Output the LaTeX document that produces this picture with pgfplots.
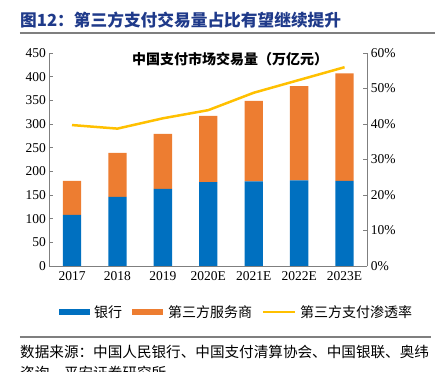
\documentclass[border=0pt]{standalone}
\usepackage{pgfplots}
\pgfplotsset{compat=1.18}
\usepackage{fontspec}
\setmainfont{Liberation Serif}
\newfontfamily\cjk{Noto Sans CJK SC}
\definecolor{cblue}{HTML}{0070C0}
\definecolor{corange}{HTML}{ED7D31}
\definecolor{cyellow}{HTML}{FFC000}
\definecolor{cnavy}{HTML}{1F3A8A}
\definecolor{caxis}{HTML}{7F7F7F}
\pgfplotstableread{
x bank third rate
0 108 72 39.7
1 146 93 38.7
2 163 116 41.6
3 177 140 43.9
4 179 170 48.8
5 181 199 52.4
6 180 227 56.0
}\datatable
\begin{document}
\begin{tikzpicture}[x=1pt,y=1pt]
\path[use as bounding box] (-72,-105) rectangle (363,266);
\begin{axis}[
  at={(0,0)}, anchor=origin, scale only axis,
  width=318pt, height=213pt,
  ybar stacked, bar width=18.3pt,
  xmin=-0.5, xmax=6.5, ymin=0, ymax=450,
  ytick={0,50,...,450},
  xtick={0,...,6},
  xticklabels={2017,2018,2019,2020E,2021E,2022E,2023E},
  extra x ticks={0.5,1.5,2.5,3.5,4.5,5.5},
  extra x tick labels={},
  extra x tick style={major tick length=4pt, tick style={caxis}},
  axis y line*=left, axis x line*=bottom,
  axis line style={caxis, line width=0.8pt},
  x axis line style={-}, y axis line style={-},
  major tick length=4pt,
  xtick style={draw=none},
  ytick style={caxis, line width=0.8pt},
  tick align=inside,
  ticklabel style={font=\fontsize{13.5}{16}\selectfont},
  /pgf/number format/assume math mode=true,
  xticklabel style={yshift=-2pt},
  clip=false,
]
\addplot[fill=cblue, draw=none] table[x=x, y=bank] {\datatable};
\addplot[fill=corange, draw=none] table[x=x, y=third] {\datatable};
\end{axis}
\begin{axis}[
  at={(0,0)}, anchor=origin, scale only axis,
  width=318pt, height=213pt,
  xmin=-0.5, xmax=6.5, ymin=0, ymax=60,
  ytick={0,10,...,60},
  yticklabel={\pgfmathprintnumber{\tick}\%},
  axis y line*=right, axis x line=none,
  axis line style={caxis, line width=0.8pt},
  y axis line style={-},
  major tick length=4pt,
  ytick style={caxis, line width=0.8pt},
  tick align=inside,
  ticklabel style={font=\fontsize{13.5}{16}\selectfont},
  /pgf/number format/assume math mode=true,
  clip=false,
]
\addplot[cyellow, line width=2.5pt, mark=none] table[x=x, y=rate] {\datatable};
\end{axis}
% header
\node[anchor=west, text=cnavy, font=\cjk\bfseries\fontsize{16.7}{19}\selectfont, inner sep=0] at (-52,246) {图12：第三方支付交易量占比有望继续提升};
\draw[caxis, line width=1.2pt] (-52,233) -- (363,233);
% chart title
\node[font=\cjk\bfseries\fontsize{14}{16}\selectfont, inner sep=0] at (158,207) {中国支付市场交易量（万亿元）};
% legend
\fill[cblue] (-13,-49) rectangle (18,-43);
\node[anchor=west, font=\cjk\fontsize{14}{16}\selectfont, inner sep=0] at (22,-46) {银行};
\fill[corange] (60,-49) rectangle (91,-43);
\node[anchor=west, font=\cjk\fontsize{14}{16}\selectfont, inner sep=0] at (96,-46) {第三方服务商};
\draw[cyellow, line width=2pt] (191,-46) -- (223,-46);
\node[anchor=west, font=\cjk\fontsize{14}{16}\selectfont, inner sep=0] at (228,-46) {第三方支付渗透率};
% footnote
\draw[caxis, line width=1.2pt] (-52,-71) -- (359,-71);
\node[anchor=west, font=\cjk\fontsize{14.6}{17}\selectfont, inner sep=0] at (-52,-86) {数据来源：中国人民银行、中国支付清算协会、中国银联、奥纬};
\node[anchor=west, font=\cjk\fontsize{14.6}{17}\selectfont, inner sep=0] at (-52,-107) {咨询，平安证券研究所};
\end{tikzpicture}
\end{document}
